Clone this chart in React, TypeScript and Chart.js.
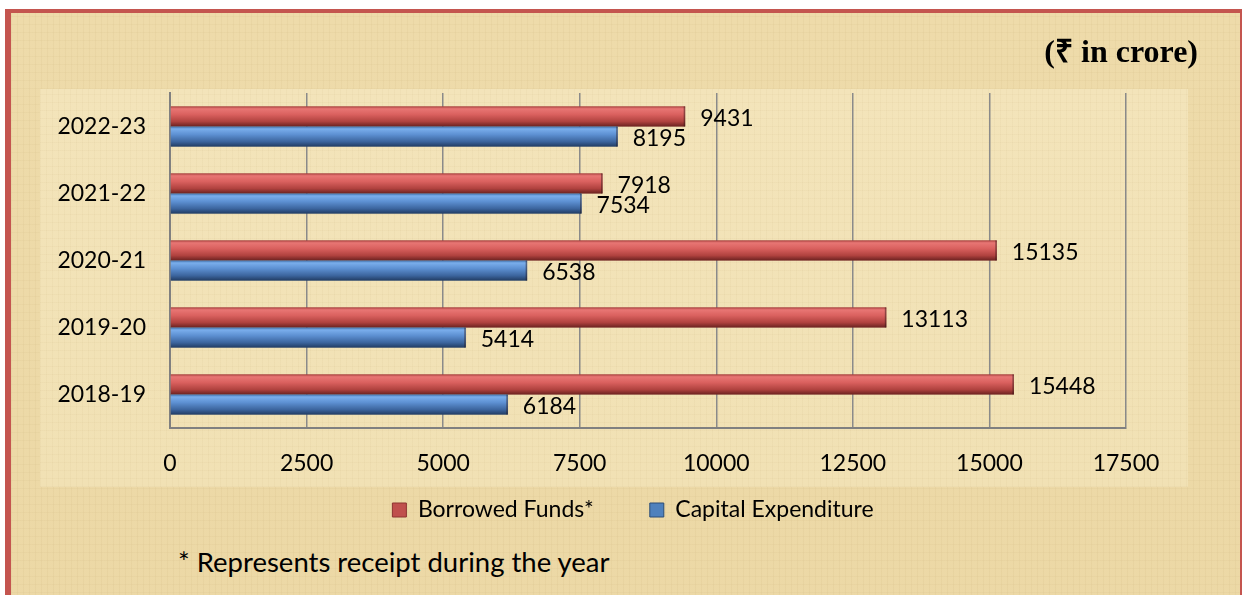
import React, { useEffect, useRef } from 'react';
import { Chart, registerables } from 'chart.js';

Chart.register(...registerables);

// ---------- data ----------
const YEARS = ['2022-23', '2021-22', '2020-21', '2019-20', '2018-19'];
const BORROWED_FUNDS = [9431, 7918, 15135, 13113, 15448];
const CAPITAL_EXPENDITURE = [8195, 7534, 6538, 5414, 6184];
const SERIES_NAMES = ['Borrowed Funds*', 'Capital Expenditure'];
const X_MIN = 0;
const X_MAX = 17500;
const X_STEP = 2500;
const UNIT_LABEL = '(₹ in crore)';
const FOOTNOTE = '* Represents receipt during the year';

// ---------- styles ----------
const FONT = "Lato, 'Open Sans', 'DejaVu Sans', sans-serif";
const FONT_SIZE = 23;
const RED_BASE = '#C0504D';
const RED_EDGE = '#8E3431';
const BLUE_BASE = '#4F81BD';
const BLUE_EDGE = '#2C4D76';
const RED_STOPS: [number, string][] = [
  [0, '#a9403e'],
  [0.12, '#e87674'],
  [0.4, '#da615f'],
  [0.75, '#b0423f'],
  [1, '#6b2220'],
];
const BLUE_STOPS: [number, string][] = [
  [0, '#3f6ea8'],
  [0.12, '#7aaeec'],
  [0.4, '#5d90d2'],
  [0.75, '#3c659e'],
  [1, '#213c63'],
];
const STOPS = [RED_STOPS, BLUE_STOPS];

const PARCHMENT =
  'repeating-linear-gradient(90deg, rgba(170,140,80,0.07) 0 1px, transparent 1px 6px),' +
  'repeating-linear-gradient(0deg, rgba(170,140,80,0.06) 0 1px, transparent 1px 8px),' +
  'linear-gradient(180deg, #EEDBAA, #ECD8A5)';
const PARCHMENT_LIGHT =
  'repeating-linear-gradient(90deg, rgba(170,140,80,0.05) 0 1px, transparent 1px 6px),' +
  'repeating-linear-gradient(0deg, rgba(170,140,80,0.05) 0 1px, transparent 1px 8px),' +
  'linear-gradient(180deg, #F3E4BA, #F1E1B4)';

const barShadePlugin = {
  id: 'barShade',
  afterDatasetsDraw(chart: any) {
    const ctx: CanvasRenderingContext2D = chart.ctx;
    chart.data.datasets.forEach((ds: any, di: number) => {
      const meta = chart.getDatasetMeta(di);
      if (meta.hidden) return;
      const stops = STOPS[di];
      meta.data.forEach((el: any, i: number) => {
        const { x, y, base, height } = el.getProps(['x', 'y', 'base', 'height'], true);
        const top = y - height / 2;
        const left = Math.min(base, x);
        const w = Math.abs(x - base);
        const g = ctx.createLinearGradient(0, top, 0, top + height);
        stops.forEach(([o, c]) => g.addColorStop(o, c));
        ctx.save();
        ctx.fillStyle = g;
        ctx.fillRect(left, top, w, height);
        ctx.fillStyle = 'rgba(40,20,20,0.45)';
        ctx.fillRect(left + w - 1.5, top, 1.5, height);
        ctx.restore();
        // value label
        const value = ds.data[i];
        ctx.save();
        ctx.font = `${FONT_SIZE}px ${FONT}`;
        ctx.fillStyle = '#000';
        ctx.textAlign = 'left';
        ctx.textBaseline = 'middle';
        ctx.fillText(String(value), x + 15, y + 2);
        ctx.restore();
      });
    });
  },
};

const LEGEND_HEIGHT = 62;
const LEGEND_PAD = 56;
const legendPlacePlugin = {
  id: 'legendPlace',
  beforeInit(chart: any) {
    const legend = chart.legend;
    if (!legend) return;
    const originalFit = legend.fit;
    legend.fit = function fit() {
      originalFit.bind(legend)();
      this.height = LEGEND_HEIGHT;
    };
  },
  afterLayout(chart: any) {
    const legend = chart.legend;
    if (!legend) return;
    legend.left = 140;
    legend.right = chart.chartArea.right;
    legend.top = 510 - FONT_SIZE / 2 - LEGEND_PAD;
  },
};

export default function App() {
  const canvasRef = useRef<HTMLCanvasElement | null>(null);

  useEffect(() => {
    if (!canvasRef.current) return;
    const chart = new Chart(canvasRef.current, {
      type: 'bar',
      data: {
        labels: YEARS,
        datasets: [
          {
            label: SERIES_NAMES[0],
            data: BORROWED_FUNDS,
            backgroundColor: RED_BASE,
            borderColor: RED_EDGE,
            borderWidth: 1,
            categoryPercentage: 0.6,
            barPercentage: 1.0,
          },
          {
            label: SERIES_NAMES[1],
            data: CAPITAL_EXPENDITURE,
            backgroundColor: BLUE_BASE,
            borderColor: BLUE_EDGE,
            borderWidth: 1,
            categoryPercentage: 0.6,
            barPercentage: 1.0,
          },
        ],
      },
      options: {
        indexAxis: 'y',
        responsive: false,
        animation: false,
        devicePixelRatio: 1,
        layout: { padding: { left: 0, right: 116, top: 93, bottom: 0 } },
        scales: {
          x: {
            type: 'linear',
            min: X_MIN,
            max: X_MAX,
            ticks: {
              stepSize: X_STEP,
              padding: 22,
              color: '#000',
              font: { family: FONT, size: FONT_SIZE },
              maxRotation: 0,
              autoSkip: false,
              callback: (v: any) => String(v),
            },
            grid: { color: '#8a8a8a', lineWidth: 1.5, drawTicks: false },
            border: { color: '#808080', width: 2 },
            afterFit(scale: any) {
              scale.height = 50;
            },
          },
          y: {
            type: 'category',
            ticks: {
              padding: 24,
              color: '#000',
              font: { family: FONT, size: FONT_SIZE },
            },
            grid: { display: false, drawTicks: false },
            border: { color: '#808080', width: 2 },
            afterFit(scale: any) {
              scale.width = 170;
            },
          },
        },
        plugins: {
          legend: {
            position: 'bottom',
            labels: {
              boxWidth: 14,
              boxHeight: 14,
              padding: LEGEND_PAD,
              color: '#000',
              font: { family: FONT, size: FONT_SIZE },
            },
          },
          tooltip: { enabled: false },
        },
      },
      plugins: [barShadePlugin, legendPlacePlugin],
    } as any);
    return () => chart.destroy();
  }, []);

  return (
    <div
      style={{
        position: 'fixed',
        left: 0,
        top: 0,
        width: 1242,
        height: 595,
        overflow: 'hidden',
        background: '#fff',
      }}
    >
      <div
        style={{
          position: 'absolute',
          left: 5,
          top: 9,
          width: 1239,
          height: 700,
          boxSizing: 'border-box',
          border: '4px solid #C4554F',
          borderLeftWidth: 6,
          background: PARCHMENT,
        }}
      />
      <div
        style={{
          position: 'absolute',
          left: 40,
          top: 89,
          width: 1148,
          height: 398,
          background: PARCHMENT_LIGHT,
        }}
      />
      <canvas
        ref={canvasRef}
        width={1242}
        height={540}
        style={{ position: 'absolute', left: 0, top: 0, width: 1242, height: 540 }}
      />
      <div
        style={{
          position: 'absolute',
          right: 44,
          top: 35,
          font: "bold 32px 'Liberation Serif', 'Times New Roman', serif",
          lineHeight: 1,
          color: '#000',
          whiteSpace: 'nowrap',
        }}
      >
        {UNIT_LABEL}
      </div>
      <div
        style={{
          position: 'absolute',
          left: 178,
          top: 548,
          fontFamily: FONT,
          fontSize: 27.5,
          lineHeight: 1,
          color: '#000',
          whiteSpace: 'nowrap',
        }}
      >
        {FOOTNOTE}
      </div>
    </div>
  );
}
